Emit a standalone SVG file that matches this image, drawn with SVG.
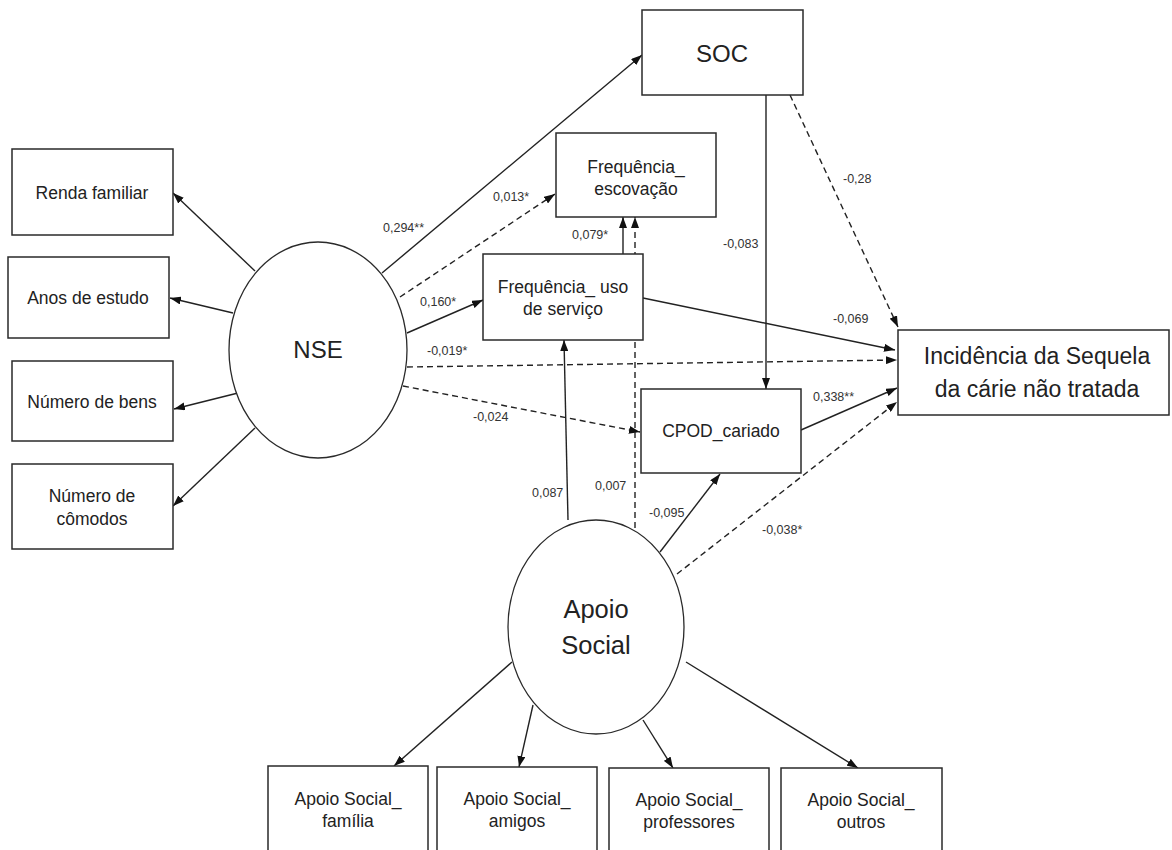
<svg xmlns="http://www.w3.org/2000/svg" width="1172" height="850" viewBox="0 0 1172 850">
<style>
.box{fill:#fff;stroke:#2a2a2a;stroke-width:1.5}
.ell{fill:#fff;stroke:#2a2a2a;stroke-width:1.3}
.t{font-family:"Liberation Sans",Arial,sans-serif;font-size:17.5px;fill:#222;text-anchor:middle}
.big{font-size:24px}
.lab{font-family:"Liberation Sans",Arial,sans-serif;font-size:12.5px;fill:#333}
.c{stroke:#222;stroke-width:1.4;fill:none;marker-end:url(#ah)}
.d{stroke-dasharray:6 4}
</style>
<defs>
<marker id="ah" markerUnits="userSpaceOnUse" markerWidth="11" markerHeight="8" refX="11" refY="4" orient="auto">
<path d="M0,0 L11,4 L0,8 z" fill="#111"/>
</marker>
</defs>
<rect width="1172" height="850" fill="#fff"/>

<g id="connectors">
<line class="c" x1="255" y1="271" x2="173" y2="193"/>
<line class="c" x1="233" y1="313" x2="170" y2="298"/>
<line class="c" x1="238" y1="393" x2="174" y2="409"/>
<line class="c" x1="255" y1="428" x2="173" y2="506"/>
<line class="c" x1="382" y1="273" x2="642" y2="55"/>
<line class="c d" x1="400" y1="297" x2="555" y2="194"/>
<line class="c" x1="407" y1="333" x2="483" y2="300"/>
<line class="c d" x1="407" y1="367" x2="897" y2="360"/>
<line class="c d" x1="403" y1="386" x2="640" y2="432"/>
<line class="c" x1="623" y1="254" x2="623" y2="217"/>
<line class="c d" x1="635" y1="528" x2="635" y2="217"/>
<line class="c" x1="568" y1="520" x2="564" y2="340"/>
<line class="c" x1="660" y1="552" x2="720" y2="474"/>
<line class="c d" x1="677" y1="574" x2="897" y2="402"/>
<line class="c" x1="801" y1="430" x2="897" y2="388"/>
<line class="c" x1="643" y1="298" x2="895" y2="350"/>
<line class="c" x1="766" y1="95" x2="766" y2="389"/>
<line class="c d" x1="790" y1="95" x2="898" y2="327"/>
<line class="c" x1="512" y1="662" x2="394" y2="766"/>
<line class="c" x1="533" y1="705" x2="519" y2="767"/>
<line class="c" x1="643" y1="720" x2="673" y2="768"/>
<line class="c" x1="686" y1="662" x2="858" y2="768"/>
</g>

<g id="edge-labels">
<text class="lab" x="383" y="232">0,294**</text>
<text class="lab" x="493" y="201">0,013*</text>
<text class="lab" x="420" y="306">0,160*</text>
<text class="lab" x="427" y="355">-0,019*</text>
<text class="lab" x="473" y="421">-0,024</text>
<text class="lab" x="572" y="239">0,079*</text>
<text class="lab" x="723" y="248">-0,083</text>
<text class="lab" x="843" y="183">-0,28</text>
<text class="lab" x="833" y="323">-0,069</text>
<text class="lab" x="813" y="401">0,338**</text>
<text class="lab" x="762" y="534">-0,038*</text>
<text class="lab" x="532" y="497">0,087</text>
<text class="lab" x="595" y="490">0,007</text>
<text class="lab" x="649" y="517">-0,095</text>
</g>

<g id="renda"><rect class="box" x="12" y="149" width="161" height="86"/><text class="t" x="92" y="199">Renda familiar</text></g>
<g id="anos"><rect class="box" x="8" y="257" width="161" height="81"/><text class="t" x="88" y="304">Anos de estudo</text></g>
<g id="bens"><rect class="box" x="12" y="361" width="161" height="80"/><text class="t" x="92" y="408">Número de bens</text></g>
<g id="comodos"><rect class="box" x="12" y="464" width="161" height="85"/><text class="t" x="92" y="502">Número de</text><text class="t" x="92" y="525">cômodos</text></g>

<g id="nse"><ellipse class="ell" cx="318" cy="350" rx="89" ry="108"/><text class="t big" x="318" y="358">NSE</text></g>

<g id="soc"><rect class="box" x="642" y="10" width="161" height="85"/><text class="t big" x="722" y="62">SOC</text></g>
<g id="escovacao"><rect class="box" x="556" y="133" width="160" height="84"/><text class="t" x="636" y="173">Frequência_</text><text class="t" x="636" y="195">escovação</text></g>
<g id="uso"><rect class="box" x="483" y="254" width="160" height="86"/><text class="t" x="563" y="293">Frequência_ uso</text><text class="t" x="563" y="315">de serviço</text></g>
<g id="cpod"><rect class="box" x="641" y="389" width="160" height="84"/><text class="t" x="721" y="437">CPOD_cariado</text></g>
<g id="incidencia"><rect class="box" x="898" y="330" width="271" height="85"/><text class="t" x="1037" y="364" style="font-size:23px">Incidência da Sequela</text><text class="t" x="1037" y="397" style="font-size:23px">da cárie não tratada</text></g>

<g id="apoio"><ellipse class="ell" cx="596" cy="627" rx="88" ry="107"/><text class="t" x="596" y="618" style="font-size:25.5px">Apoio</text><text class="t" x="596" y="654" style="font-size:25.5px">Social</text></g>

<g id="familia"><rect class="box" x="268" y="766" width="160" height="90"/><text class="t" x="348" y="805">Apoio Social_</text><text class="t" x="348" y="827">família</text></g>
<g id="amigos"><rect class="box" x="437" y="767" width="160" height="90"/><text class="t" x="517" y="805">Apoio Social_</text><text class="t" x="517" y="827">amigos</text></g>
<g id="professores"><rect class="box" x="609" y="768" width="160" height="90"/><text class="t" x="689" y="806">Apoio Social_</text><text class="t" x="689" y="828">professores</text></g>
<g id="outros"><rect class="box" x="781" y="768" width="161" height="90"/><text class="t" x="861" y="806">Apoio Social_</text><text class="t" x="861" y="828">outros</text></g>
</svg>
